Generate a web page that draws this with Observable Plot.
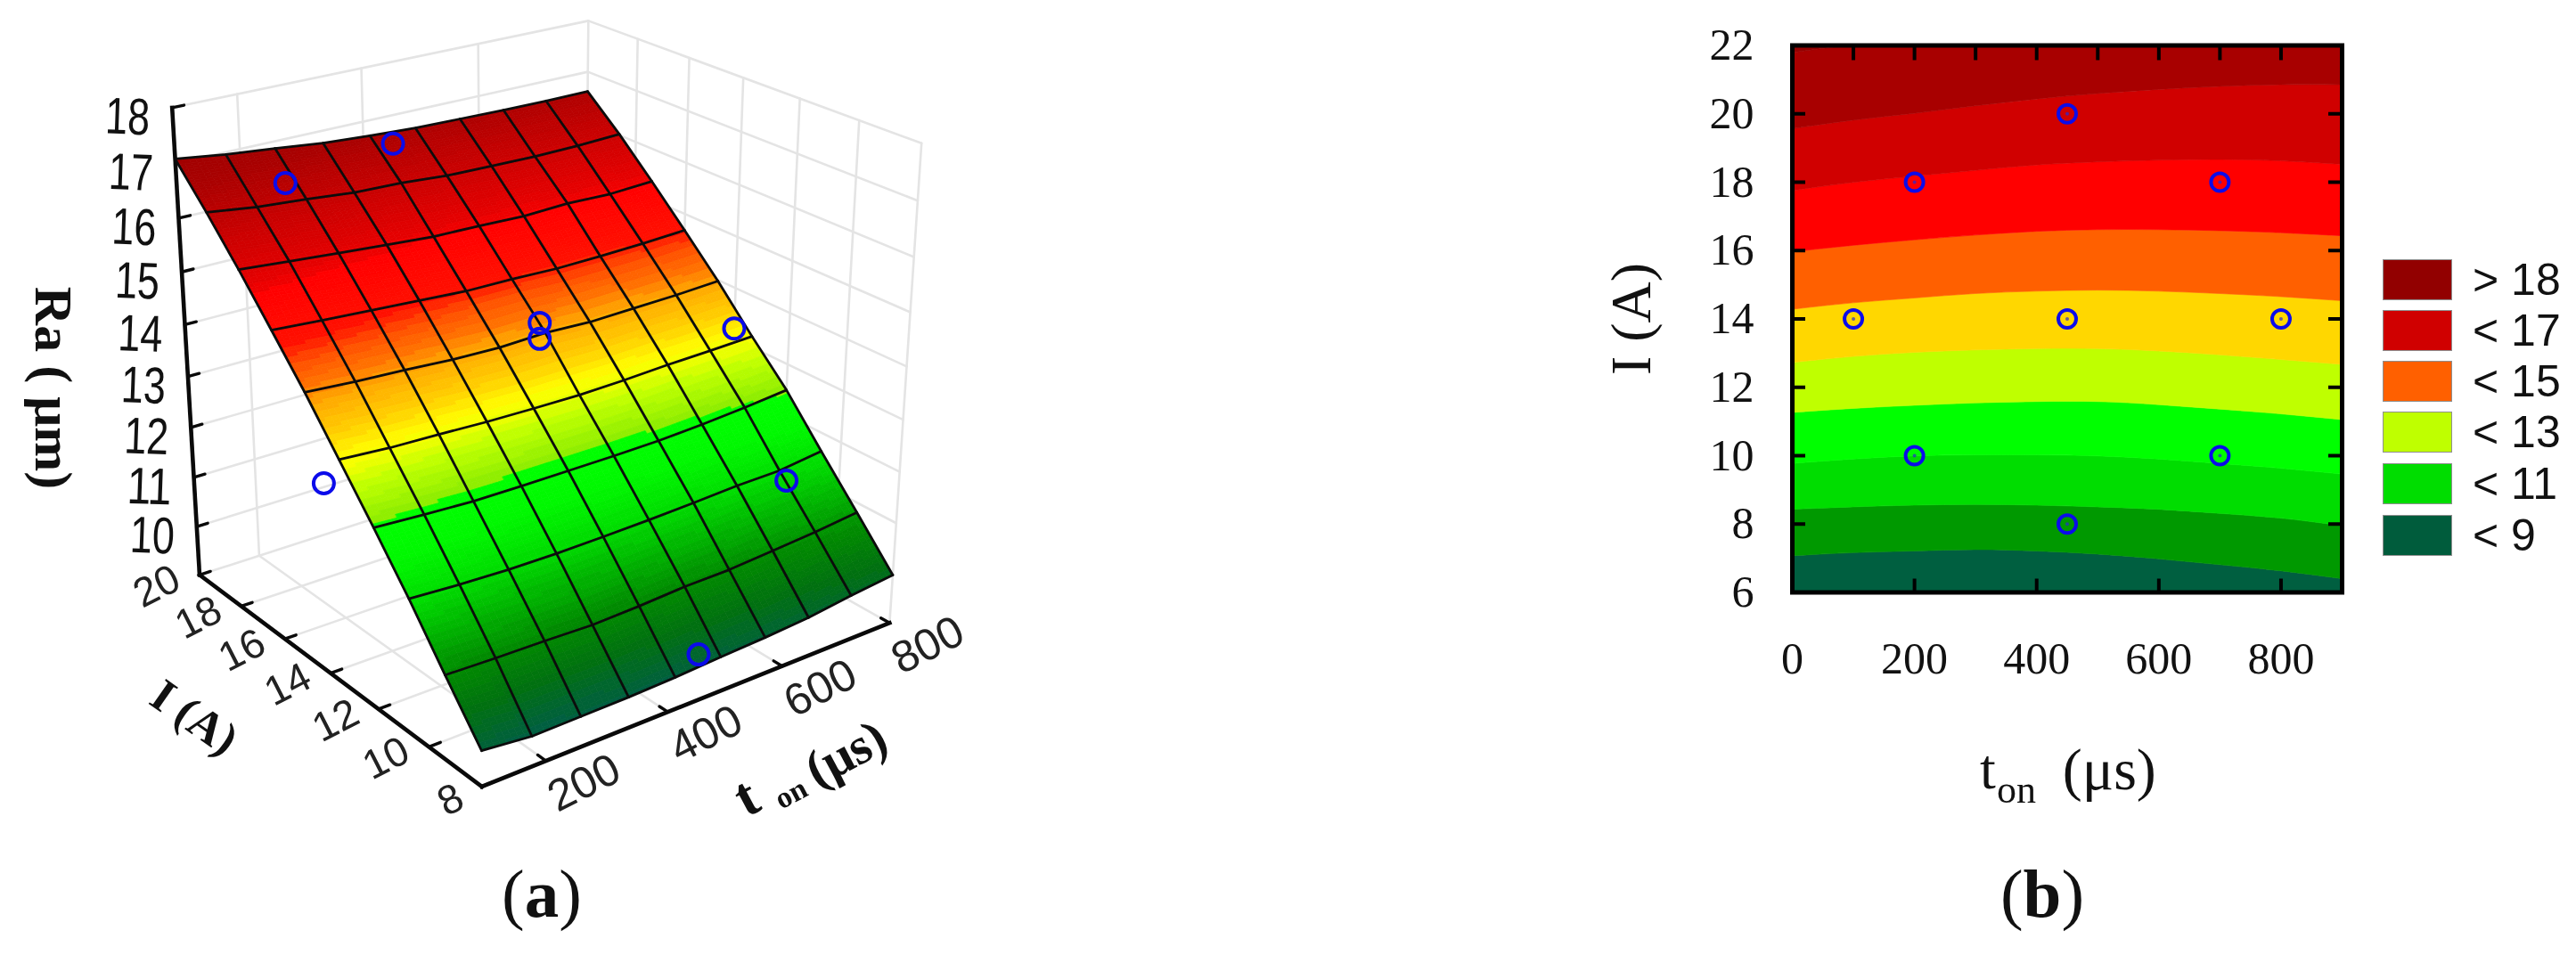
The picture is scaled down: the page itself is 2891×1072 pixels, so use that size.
<!DOCTYPE html>
<html><head><meta charset="utf-8">
<style>
html,body{margin:0;background:#fff}
#page{position:relative;width:2891px;height:1072px;overflow:hidden;background:#fff}
#page>*{filter:blur(0.6px)}
.cap{position:absolute;font:77px "Liberation Serif",serif;color:#111;transform:translate(-50%,-50%);white-space:nowrap}
.sw{position:absolute;left:2674px;width:76px;height:44px;border:1.5px solid #8f8f8f;box-sizing:content-box}
.lg{position:absolute;left:2775px;font:50px "Liberation Sans",Arial,sans-serif;color:#111;white-space:pre;line-height:46px}
</style>
<script src="https://cdn.jsdelivr.net/npm/d3@7"></script>
<script src="https://cdn.jsdelivr.net/npm/@observablehq/plot@0.6"></script>
</head><body><div id="page"></div>
<script>
/* ---------- panel (a): response surface ---------- */
const surfaceTon = [100, 177.8, 255.6, 333.3, 411.1, 488.9, 566.7, 644.4, 722.2, 800];
const surfaceI = [20, 18.67, 17.33, 16, 14.67, 13.33, 12, 10.67, 9.33, 8];
const surfaceRa = [
  [17.08,16.96,16.87,16.77,16.71,16.66,16.64,16.62,16.61,16.61],
  [16.40,16.28,16.21,16.12,16.09,16.02,16.00,15.98,15.99,16.02],
  [15.67,15.59,15.51,15.44,15.37,15.35,15.32,15.35,15.32,15.36],
  [14.90,14.83,14.77,14.71,14.65,14.64,14.61,14.62,14.64,14.68],
  [14.12,14.05,14.00,13.94,13.91,13.94,13.90,13.92,13.94,13.98],
  [13.27,13.20,13.17,13.13,13.11,13.10,13.12,13.16,13.18,13.21],
  [12.42,12.36,12.31,12.30,12.30,12.30,12.31,12.35,12.41,12.49],
  [11.54,11.48,11.44,11.43,11.44,11.46,11.49,11.53,11.54,11.64],
  [10.59,10.56,10.54,10.51,10.54,10.59,10.60,10.66,10.72,10.81],
  [9.67,9.57,9.58,9.59,9.62,9.67,9.71,9.77,9.88,9.97]
];
const pointsTon = [200,450,450,450,800,100,700,450];
const pointsI = [18,20,14,14,14,14,10,8];
const pointsRa = [16.80,16.46,14.42,14.12,13.20,12.64,11.62,9.89];
const raTicks = [10,11,12,13,14,15,16,17,18];
const iTicks = [8,10,12,14,16,18,20];
const tonTicks = [200,400,600,800];
const colorRa = [9.6,10.1,10.6,11.5,12,12.47,12.5,12.9,13.1,13.25,13.55,13.95,14.2,14.45,14.68,15.3,15.45,16.1,16.7,17.1];
const colorHex = ["#005f40","#007010","#008a00","#00dd00","#00f800","#00ff00","#90ee00","#c0ff00","#e8ff00","#ffff00","#ffd000","#ffa800","#ff7000","#ff5000","#ff1000","#ff0000","#e60000","#c80000","#aa0000","#a00000"];
const camera = [[0.49828,0.24436,-0.04578,0.22347],[-0.08752,0.11926,-0.53387,0.64483],[0.10230,-0.13412,-0.07786]];

const project = (t,i,ra)=>{
  const u=(t-100)/700, v=(20-i)/12, w=(ra-9)/9;
  const d=camera[2][0]*u+camera[2][1]*v+camera[2][2]*w+1;
  return {x:1000*(camera[0][0]*u+camera[0][1]*v+camera[0][2]*w+camera[0][3])/d,
          y:1000*(camera[1][0]*u+camera[1][1]*v+camera[1][2]*w+camera[1][3])/d};
};
const seg=(id,a,b)=>[{id,...project(...a)},{id,...project(...b)}];

// shaded surface facets
const facets=[]; let fid=0; const NU=8,NV=20;
for(let j=0;j<9;j++)for(let i=0;i<9;i++)for(let a=0;a<NU;a++)for(let b=0;b<NV;b++){
  const at=(p,q)=>{const s=p/NU,r=q/NV;
    const t=surfaceTon[i]+(surfaceTon[i+1]-surfaceTon[i])*s, I=surfaceI[j]+(surfaceI[j+1]-surfaceI[j])*r;
    const ra=(1-r)*((1-s)*surfaceRa[j][i]+s*surfaceRa[j][i+1])+r*((1-s)*surfaceRa[j+1][i]+s*surfaceRa[j+1][i+1]);
    return {t,I,ra};};
  const c=[at(a,b),at(a+1,b),at(a+1,b+1),at(a,b+1)];
  const m=(c[0].ra+c[1].ra+c[2].ra+c[3].ra)/4, ra=Math.round(m/0.1)*0.1;
  const id=fid++;
  for(const k of c) facets.push({id,ra,...project(k.t,k.I,k.ra)});
}
const meshLines=[];
surfaceI.forEach((I,j)=>surfaceTon.forEach((t,i)=>meshLines.push({id:"r"+j,...project(t,I,surfaceRa[j][i])})));
surfaceTon.forEach((t,i)=>surfaceI.forEach((I,j)=>meshLines.push({id:"c"+i,...project(t,I,surfaceRa[j][i])})));

// walls and floor
const wall=[]; let wid=0;
for(const r of raTicks){wall.push(...seg(wid++,[100,20,r],[800,20,r]),...seg(wid++,[800,20,r],[800,8,r]));}
for(const t of [200,400,600]){wall.push(...seg(wid++,[t,20,9],[t,20,18]),...seg(wid++,[t,20,9],[t,8,9]));}
for(const i of [10,12,14,16,18]){wall.push(...seg(wid++,[800,i,9],[800,i,18]),...seg(wid++,[100,i,9],[800,i,9]));}
wall.push(...seg(wid++,[800,20,9],[800,20,18]),...seg(wid++,[800,8,9],[800,8,18]));
wall.push(...seg(wid++,[800,20,9],[800,8,9]),...seg(wid++,[100,20,9],[800,20,9]));

const axisLines=[...seg("ra",[100,20,9],[100,20,18]),...seg("i",[100,20,9],[100,8,9]),...seg("t",[100,8,9],[800,8,9])];
const tickLines=[];
raTicks.forEach(r=>tickLines.push(...seg("r"+r,[100,20,r],[118,20,r])));
iTicks.forEach(i=>tickLines.push(...seg("i"+i,[100,i,9],[118,i,9])));
tonTicks.forEach(t=>tickLines.push(...seg("t"+t,[t,8,9],[t,8.3,9])));

const sans='"Liberation Sans",Arial,sans-serif';
const serif='"Liberation Serif","Times New Roman",serif';
const squeeze=(len)=>(i,s,v,d,c,next)=>{const g=next(i,s,v,d,c);g.querySelectorAll("text").forEach(t=>{t.setAttribute("textLength",len);t.setAttribute("lengthAdjust","spacingAndGlyphs")});return g;};

const panelA=Plot.plot({
  width:1100,height:1072,margin:0,
  x:{domain:[0,1100],range:[0,1100],axis:null},
  y:{domain:[0,1072],range:[0,1072],axis:null},
  color:{type:"linear",domain:colorRa,range:colorHex,clamp:true,interpolate:"rgb"},
  style:{position:"absolute",left:"0",top:"0",background:"transparent",overflow:"visible"},
  marks:[
    Plot.line(wall,{x:"x",y:"y",z:"id",stroke:"#e4e4e4",strokeWidth:2.6}),
    Plot.line(axisLines,{x:"x",y:"y",z:"id",stroke:"#0a0a0a",strokeWidth:4.6,strokeLinecap:"square"}),
    Plot.line(tickLines,{x:"x",y:"y",z:"id",stroke:"#0a0a0a",strokeWidth:3.4}),
    Plot.line(facets,{x:"x",y:"y",z:"id",fill:"ra",stroke:"ra",strokeWidth:0.8,curve:"linear-closed"}),
    Plot.line(meshLines,{x:"x",y:"y",z:"id",stroke:"#0c0c0c",strokeWidth:2.8,strokeLinejoin:"round"}),
    Plot.dot(pointsTon.map((t,k)=>project(t,pointsI[k],pointsRa[k])),{x:"x",y:"y",r:11.5,stroke:"#0b0bea",strokeWidth:4}),
    // tick labels
    Plot.text(raTicks,{x:d=>project(100,20,d).x,y:d=>project(100,20,d).y,text:d=>String(d),dx:-50,dy:11,rotate:2,fontSize:58,fontFamily:sans,fill:"#111",render:squeeze(50)}),
    Plot.text(iTicks.filter(d=>d>8),{x:d=>project(100,d,9).x,y:d=>project(100,d,9).y,text:d=>String(d),dx:-48,dy:13,rotate:-27,fontSize:46,fontFamily:sans,fill:"#222"}),
    Plot.text([8],{x:d=>project(100,d,9).x,y:d=>project(100,d,9).y,text:d=>String(d),dx:-35,dy:15,rotate:-27,fontSize:46,fontFamily:sans,fill:"#222"}),
    Plot.text(tonTicks,{x:d=>project(d,8,9).x,y:d=>project(d,8,9).y,text:d=>String(d),dx:43,dy:25,rotate:-27,fontSize:50,fontFamily:sans,fill:"#222"}),
    // axis titles
    Plot.text(["Ra ( μm)"],{x:()=>project(100,20,14).x,y:()=>project(100,20,14).y,dx:-148,dy:71,rotate:90,fontSize:60,fontWeight:"bold",fontFamily:serif,fill:"#111"}),
    Plot.text(["I (A)"],{x:()=>project(100,14,9).x,y:()=>project(100,14,9).y,dx:-153,dy:50,rotate:35,fontSize:52,fontWeight:"bold",fontFamily:serif,fill:"#111"}),
    Plot.text(["t"],{x:()=>project(500,8,9).x,y:()=>project(500,8,9).y,dx:23,dy:122,rotate:-28,fontSize:64,fontWeight:"bold",fontFamily:serif,fill:"#111"}),
    Plot.text(["on"],{x:()=>project(500,8,9).x,y:()=>project(500,8,9).y,dx:73,dy:118,rotate:-28,fontSize:34,fontWeight:"bold",fontFamily:serif,fill:"#111"}),
    Plot.text(["(μs)"],{x:()=>project(500,8,9).x,y:()=>project(500,8,9).y,dx:135,dy:73,rotate:-28,fontSize:58,fontWeight:"bold",fontFamily:serif,fill:"#111"})
  ]
});

/* ---------- panel (b): contour map ---------- */
const contourTon = [0,100,200,300,400,500,600,700,800,900];
const edge9  = [7.06,7.15,7.20,7.24,7.20,7.11,6.97,6.80,6.62,6.39];
const edge10 = [8.42,8.49,8.54,8.56,8.54,8.49,8.42,8.30,8.16,7.94];
const edge11 = [9.76,9.89,9.98,10.01,10.01,9.98,9.89,9.76,9.62,9.45];
const edge12 = [11.25,11.37,11.46,11.53,11.57,11.57,11.48,11.35,11.21,11.04];
const edge13 = [12.71,12.89,13.01,13.08,13.12,13.12,13.05,12.94,12.80,12.66];
const edge14 = [14.27,14.46,14.60,14.73,14.80,14.83,14.80,14.73,14.64,14.52];
const edge15 = [15.95,16.14,16.30,16.44,16.55,16.60,16.60,16.57,16.51,16.42];
const edge16 = [17.74,17.98,18.16,18.33,18.49,18.58,18.63,18.65,18.61,18.51];
const edge17 = [19.55,19.80,20.00,20.22,20.42,20.58,20.70,20.79,20.84,20.84];
const edge18 = [21.78,21.98,22,22,22,22,22,22,22,22];
const bottomEdge = contourTon.map(()=>6), topEdge = contourTon.map(()=>22);
const bandEdges = [bottomEdge,edge9,edge10,edge11,edge12,edge13,edge14,edge15,edge16,edge17,edge18,topEdge];
const bandColors = ["#005f40","#009900","#00dd00","#00ff00","#bfff00","#ffd700","#ff6000","#ff0000","#d00000","#a80000","#940000"];
const expTon = [450,200,700,100,450,800,200,700,450];
const expI = [20,18,18,14,14,14,10,10,8];
const legendColors = ["#920000","#d00000","#ff6000","#bfff00","#00dd00","#005c3c"];
const legendLabels = ["> 18","< 17","< 15","< 13","< 11","< 9"];
const yTicks = [6,8,10,12,14,16,18,20,22];
const xTicks = [0,200,400,600,800];
const expPts = expTon.map((t,i)=>({t,I:expI[i]}));

const panelB=Plot.plot({
  width:900,height:1000,marginLeft:231,marginRight:52,marginTop:50.5,marginBottom:335.5,
  x:{domain:[0,900]},
  y:{domain:[6,22]},
  style:{position:"absolute",left:"1780px",top:"0",background:"transparent",overflow:"visible",fontFamily:serif},
  marks:[
    ...bandColors.map((c,k)=>Plot.areaY(contourTon,{x:d=>d,y1:(d,i)=>bandEdges[k][i],y2:(d,i)=>bandEdges[k+1][i],fill:c,stroke:c,strokeWidth:0.6,curve:"natural"})),
    Plot.dot(expPts,{x:"t",y:"I",r:10,stroke:"#0b0bea",strokeWidth:4}),
    Plot.dot(expPts,{x:"t",y:"I",r:2,fill:"#2a2ad0",fillOpacity:0.7}),
    Plot.tickY(yTicks,{y:d=>d,insetRight:617-15,stroke:"#000",strokeWidth:4}),
    Plot.tickY(yTicks,{y:d=>d,insetLeft:617-15,stroke:"#000",strokeWidth:4}),
    Plot.tickX(d3.range(100,900,100),{x:d=>d,insetBottom:614-17,stroke:"#000",strokeWidth:4}),
    Plot.tickX(xTicks.slice(1),{x:d=>d,insetTop:614-15,stroke:"#000",strokeWidth:4}),
    Plot.frame({stroke:"#000",strokeWidth:5}),
    Plot.axisY({ticks:yTicks,tickSize:0,tickPadding:43,fontSize:50,label:null,fill:"#111"}),
    Plot.axisX({ticks:xTicks,tickSize:0,tickPadding:55,fontSize:50,label:null,fill:"#111"}),
    Plot.text(["I (A)"],{x:()=>0,y:()=>14,dx:-180,rotate:-90,fontSize:64,fill:"#111"}),
    Plot.text(["t"],{x:()=>320,y:()=>6,dy:200,fontSize:64,fill:"#111"}),
    Plot.text(["on"],{x:()=>367,y:()=>6,dy:222,fontSize:44,fill:"#111"}),
    Plot.text(["(μs)"],{x:()=>519,y:()=>6,dy:200,fontSize:66,fill:"#111"})
  ]
});

const page=document.getElementById("page");
page.append(panelA,panelB);
const tops=[291,348,405,462,520,578];
legendLabels.forEach((t,i)=>{
  const s=document.createElement("div");s.className="sw";s.style.top=tops[i]+"px";s.style.background=legendColors[i];page.append(s);
  const l=document.createElement("div");l.className="lg";l.style.top=tops[i]+"px";l.textContent=t;page.append(l);
});
const capA=document.createElement("div");capA.className="cap";capA.style.left="608px";capA.style.top="1003px";capA.innerHTML="(<b>a</b>)";page.append(capA);
const capB=document.createElement("div");capB.className="cap";capB.style.left="2292px";capB.style.top="1003px";capB.innerHTML="(<b>b</b>)";page.append(capB);
</script></body></html>
